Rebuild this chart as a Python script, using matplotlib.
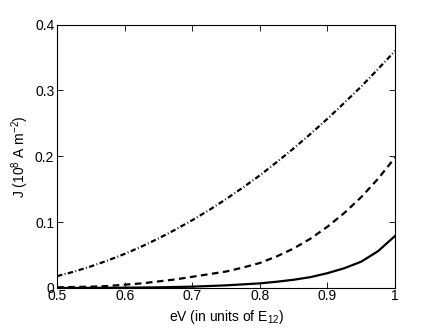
import numpy as np
import matplotlib
matplotlib.use('Agg')
import matplotlib.pyplot as plt
from matplotlib.ticker import FixedLocator, FuncFormatter

plt.rcParams['font.family'] = ['Liberation Sans', 'DejaVu Sans']
plt.rcParams['mathtext.fontset'] = 'custom'
plt.rcParams['mathtext.rm'] = 'Liberation Sans'
plt.rcParams['mathtext.it'] = 'Liberation Sans:italic'
plt.rcParams['font.size'] = 10

# values
ev = [0.5, 0.525, 0.55, 0.575, 0.6, 0.625, 0.65, 0.675, 0.7, 0.725, 0.75,
      0.775, 0.8, 0.825, 0.85, 0.875, 0.9, 0.925, 0.95, 0.975, 1.0]
j_solid = [0.0, 0.0001, 0.0002, 0.0003, 0.0005, 0.0007, 0.001, 0.0015, 0.002, 0.003, 0.004,
           0.0055, 0.007, 0.0095, 0.0125, 0.0165, 0.0225, 0.030, 0.040, 0.056, 0.079]
j_dashed = [0.001, 0.0015, 0.002, 0.003, 0.005, 0.007, 0.010, 0.013, 0.017, 0.021, 0.025,
            0.031, 0.038, 0.048, 0.060, 0.075, 0.093, 0.114, 0.138, 0.166, 0.198]
j_dashdot = [0.018, 0.0248, 0.0328, 0.0418, 0.0518, 0.063, 0.0752, 0.0886, 0.103, 0.1184, 0.135,
             0.1526, 0.171, 0.1912, 0.212, 0.234, 0.257, 0.2812, 0.306, 0.3326, 0.360]
xticks = [0.5, 0.6, 0.7, 0.8, 0.9, 1.0]
yticks = [0, 0.1, 0.2, 0.3, 0.4]

fig = plt.figure(figsize=(4.36, 3.28), dpi=100)
ax = fig.add_axes([0.131, 0.122, 0.775, 0.803])

ax.plot(ev, j_solid, color='k', lw=1.6, linestyle='-')
ax.plot(ev, j_dashed, color='k', lw=1.6, linestyle=(0, (3, 2)))
ax.plot(ev, j_dashdot, color='k', lw=1.6, linestyle=(0, (2.4, 1.1, 0.4, 1.1)))

ax.set_xlim(0.5, 1.0)
ax.set_ylim(0, 0.4)
ax.xaxis.set_major_locator(FixedLocator(xticks))
ax.yaxis.set_major_locator(FixedLocator(yticks))
fmt = FuncFormatter(lambda v, p: '%g' % round(v, 3))
ax.xaxis.set_major_formatter(fmt)
ax.yaxis.set_major_formatter(fmt)
ax.tick_params(direction='in', top=True, right=True, length=4, width=0.6, pad=2)
ax.tick_params(axis='x', pad=1)
for s in ax.spines.values():
    s.set_linewidth(0.8)

ax.set_xlabel('eV (in units of E$_{12}$)', labelpad=3)
ax.set_ylabel('J (10$^{8}$ A m$^{-2}$)', labelpad=3)

fig.savefig('out.png', dpi=100)
